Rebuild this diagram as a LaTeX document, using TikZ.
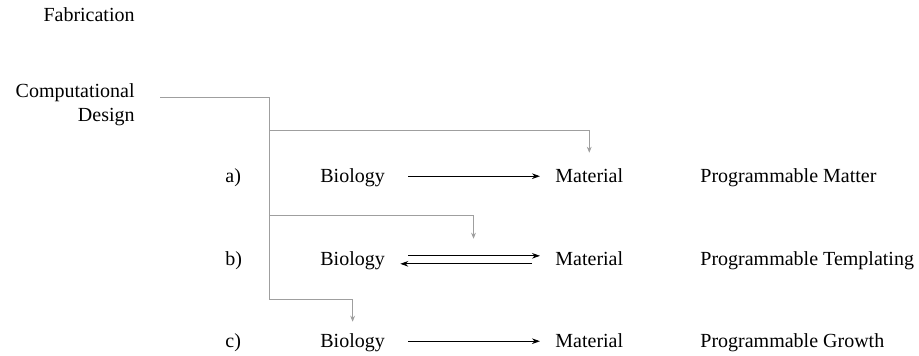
\documentclass[tikz,border=0pt]{standalone}
\usepackage{fontspec}
\setmainfont{Liberation Serif}
\usetikzlibrary{positioning, calc, arrows.meta}

\begin{document}
\begin{tikzpicture}[x=0.5pt, y=-0.5pt,
    txt/.style={inner sep=0pt, font=\fontsize{10}{12}\selectfont},
    feed/.style={gray!75, line width=0.35pt},
    feedtip/.style={-{Stealth[length=3pt, width=2.4pt]}},
    flow/.style={-{Stealth[length=4pt, width=2.8pt]}, line width=0.5pt}]
    \useasboundingbox (0,0) rectangle (919,356);

    % Left labels
    \node[txt, anchor=base east] (fab) at (135,22) {Fabrication};
    \node[txt, anchor=base east] (comp) at (135,98) {Computational};
    \node[txt, anchor=base east] (design) at (135,122) {Design};

    % Row a)
    \node[txt, anchor=base west] (labA) at (225,183) {a)};
    \node[txt, anchor=base west] (bioA) at (320,183) {Biology};
    \node[txt, anchor=base west] (matA) at (555,183) {Material};
    \node[txt, anchor=base west] (progA) at (700,183) {Programmable Matter};

    % Row b)
    \node[txt, anchor=base west] (labB) at (225,266) {b)};
    \node[txt, anchor=base west] (bioB) at (320,266) {Biology};
    \node[txt, anchor=base west] (matB) at (555,266) {Material};
    \node[txt, anchor=base west] (progB) at (700,266) {Programmable Templating};

    % Row c)
    \node[txt, anchor=base west] (labC) at (225,348) {c)};
    \node[txt, anchor=base west] (bioC) at (320,348) {Biology};
    \node[txt, anchor=base west] (matC) at (555,348) {Material};
    \node[txt, anchor=base west] (progC) at (700,348) {Programmable Growth};

    % Biology -> Material
    \draw[flow, shorten <=11.5pt, shorten >=7.5pt] ([yshift=1pt]bioA.east) -- ([yshift=1pt]bioA.east -| matA.west);
    \draw[flow, shorten <=11.5pt, shorten >=7.5pt] ([yshift=2.7pt]bioB.east) -- ([yshift=2.7pt]bioB.east -| matB.west);
    \draw[flow, shorten <=11.5pt, shorten >=7.5pt] ([yshift=-1.3pt]bioB.east -| matB.west) -- ([yshift=-1.3pt]bioB.east);
    \draw[flow, shorten <=11.5pt, shorten >=7.5pt] ([yshift=1pt]bioC.east) -- ([yshift=1pt]bioC.east -| matC.west);

    % Computational design feed
    \coordinate (src) at (160,97);
    \coordinate (trunk) at (269,97);
    \coordinate (midB) at ($(bioB.north east)!0.52!(matB.north west)$);
    \draw[feed] (src) -- (trunk) -- (trunk |- 0,299);
    \draw[feed, feedtip, shorten >=8pt] (trunk |- 0,130) -| (matA.north);
    \draw[feed, feedtip, shorten >=6.5pt] (trunk |- 0,215) -| (midB);
    \draw[feed, feedtip, shorten >=6pt] (trunk |- 0,299) -| (bioC.north);
\end{tikzpicture}
\end{document}
